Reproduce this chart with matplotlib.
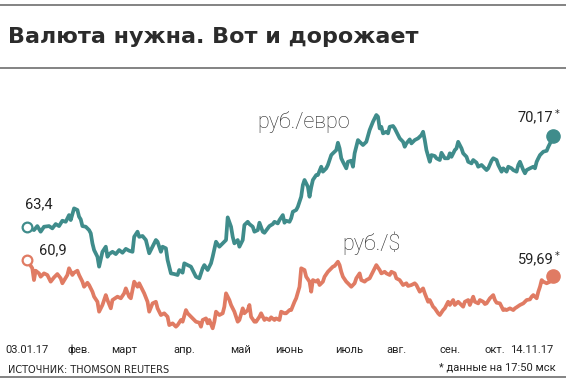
import matplotlib
matplotlib.use("Agg")
import matplotlib.pyplot as plt
from matplotlib.lines import Line2D

# days since 03.01.17 and exchange rates (rub per unit)
eur_days = [0, 4, 6, 8, 10, 13, 15, 17, 19, 21, 23, 25, 26, 28, 30, 31, 32, 33, 35, 37,
            38, 39, 40, 42, 43, 44, 45, 47, 48, 49, 51, 53, 55, 57, 59, 61, 63, 64, 66, 67,
            69, 71, 73, 75, 77, 78, 80, 81, 83, 84, 86, 88, 90, 91, 93, 94, 96, 98, 100, 101,
            103, 105, 106, 108, 110, 111, 113, 115, 117, 119, 120, 122, 123, 124, 126, 127, 129, 130, 132, 133,
            135, 136, 138, 139, 141, 142, 144, 145, 147, 148, 150, 151, 153, 154, 155, 157, 158, 159, 161, 162,
            164, 165, 166, 168, 169, 170, 171, 173, 174, 176, 177, 179, 180, 182, 183, 185, 186, 187, 188, 189,
            191, 192, 194, 195, 196, 198, 199, 201, 203, 205, 207, 209, 210, 211, 212, 213, 215, 216, 217, 219,
            220, 222, 223, 225, 226, 227, 229, 230, 232, 234, 236, 237, 238, 239, 241, 242, 244, 245, 247, 248,
            250, 252, 253, 254, 256, 257, 258, 260, 261, 263, 264, 266, 267, 269, 270, 272, 273, 275, 276, 278,
            279, 281, 282, 284, 285, 287, 288, 290, 291, 293, 294, 295, 297, 298, 299, 301, 303, 304, 305, 306,
            307, 309, 311, 312, 313, 315]
eur_rate = [63.40, 63.15, 63.45, 63.03, 63.40, 63.45, 63.28, 63.60, 63.45, 63.85, 63.77, 64.27, 63.90, 64.77, 64.65, 64.15, 63.95, 63.45, 63.40, 63.15,
            62.91, 62.16, 61.66, 61.16, 60.42, 60.97, 61.53, 61.91, 61.16, 61.36, 61.53, 61.36, 61.66, 61.46, 61.75, 61.61, 61.53, 62.65, 63.03, 62.65,
            62.71, 62.41, 61.42, 61.91, 62.41, 62.28, 61.53, 61.91, 61.79, 60.92, 59.92, 59.87, 59.80, 60.17, 59.97, 60.67, 60.54, 60.42, 59.92, 59.67,
            59.55, 60.30, 60.54, 60.17, 60.67, 61.16, 62.28, 61.91, 62.16, 62.41, 64.10, 63.40, 62.65, 62.16, 62.41, 61.91, 62.41, 63.53, 63.77, 63.60,
            63.40, 63.03, 63.15, 63.70, 63.03, 62.95, 63.28, 63.45, 63.60, 63.77, 63.65, 63.90, 64.27, 63.70, 63.85, 63.77, 64.03, 64.52, 64.65, 64.89,
            65.64, 66.51, 66.89, 66.39, 65.64, 66.34, 66.89, 67.26, 67.26, 67.88, 67.51, 67.76, 68.01, 68.75, 68.88, 69.12, 69.67, 69.25, 68.51, 68.25,
            67.76, 68.25, 68.33, 67.88, 68.88, 69.87, 69.74, 69.50, 69.74, 70.62, 71.24, 71.74, 71.61, 70.74, 70.86, 70.37, 70.49, 70.37, 70.86, 70.92,
            70.74, 70.24, 70.00, 69.74, 69.37, 69.62, 69.92, 69.62, 69.87, 70.00, 70.24, 70.49, 69.87, 69.12, 68.25, 68.75, 68.68, 68.51, 68.38, 68.92,
            68.51, 68.51, 68.88, 68.62, 69.12, 69.25, 69.74, 69.25, 68.88, 68.62, 68.25, 68.13, 68.38, 68.18, 67.88, 68.01, 67.88, 67.63, 67.76, 68.33,
            68.51, 68.38, 68.01, 67.51, 67.76, 67.51, 67.88, 67.76, 67.63, 67.51, 68.01, 68.25, 67.63, 67.39, 67.63, 67.76, 67.88, 67.76, 68.25, 68.51,
            68.75, 69.00, 69.07, 69.37, 69.62, 70.17]

usd_days = [0, 3, 4, 5, 7, 8, 10, 12, 14, 16, 18, 20, 21, 24, 25, 27, 28, 30, 31, 33,
            34, 36, 37, 39, 40, 42, 43, 45, 47, 48, 50, 51, 54, 56, 58, 59, 61, 62, 64, 66,
            67, 69, 70, 72, 73, 75, 77, 78, 80, 82, 84, 85, 87, 89, 90, 92, 93, 95, 96, 98,
            99, 101, 103, 104, 105, 107, 108, 109, 111, 112, 113, 115, 117, 118, 119, 121, 122, 124, 126, 127,
            129, 130, 132, 133, 134, 136, 137, 139, 140, 142, 143, 145, 146, 148, 149, 151, 152, 154, 155, 157,
            158, 160, 161, 163, 164, 166, 167, 169, 170, 171, 173, 174, 175, 177, 178, 180, 181, 183, 184, 186,
            187, 188, 189, 191, 192, 194, 196, 197, 199, 200, 202, 203, 205, 206, 208, 209, 211, 212, 214, 215,
            217, 218, 220, 221, 223, 225, 227, 228, 230, 232, 233, 235, 237, 238, 240, 241, 243, 244, 246, 247,
            249, 250, 252, 253, 255, 256, 258, 259, 261, 262, 264, 265, 267, 268, 270, 271, 273, 274, 275, 277,
            279, 280, 281, 283, 285, 286, 287, 289, 291, 292, 293, 295, 297, 298, 299, 301, 302, 303, 305, 306,
            307, 308, 309, 311, 313, 315]
usd_rate = [60.90, 60.30, 59.42, 60.12, 59.92, 59.67, 59.92, 59.80, 59.30, 59.62, 59.87, 59.55, 59.18, 59.80, 60.30, 59.80, 59.97, 60.12, 59.80, 59.30,
            58.92, 59.22, 59.05, 58.55, 58.18, 57.80, 57.06, 57.56, 58.30, 57.93, 57.31, 57.93, 58.18, 58.06, 58.43, 58.80, 58.18, 58.06, 59.30, 58.92,
            59.18, 58.68, 58.43, 57.80, 57.06, 57.68, 57.80, 57.31, 56.81, 56.94, 56.68, 56.06, 56.19, 55.94, 56.06, 56.44, 56.31, 57.18, 56.94, 56.68,
            56.56, 56.31, 56.24, 55.94, 56.44, 56.56, 56.19, 56.44, 55.82, 56.31, 57.06, 56.81, 56.94, 57.43, 58.43, 57.93, 57.56, 57.06, 56.31, 56.44,
            57.31, 56.94, 57.18, 57.56, 56.68, 56.31, 56.31, 56.68, 56.94, 56.44, 56.56, 56.44, 56.64, 56.44, 56.56, 56.44, 57.06, 56.94, 56.94, 57.18,
            57.18, 57.80, 58.06, 58.92, 60.30, 60.17, 59.67, 59.30, 58.55, 59.42, 59.30, 59.42, 59.05, 59.30, 59.67, 60.04, 60.17, 60.42, 60.47, 60.79,
            60.54, 60.04, 59.67, 59.30, 59.18, 58.92, 59.18, 59.55, 59.92, 59.42, 59.30, 59.42, 59.55, 59.80, 60.30, 60.54, 60.17, 59.92, 60.04, 59.92,
            59.80, 60.04, 59.92, 59.55, 59.42, 59.05, 59.18, 58.98, 59.05, 59.18, 59.05, 58.55, 58.80, 58.43, 57.80, 57.93, 57.43, 57.31, 56.94, 56.81,
            57.18, 57.31, 57.80, 57.56, 57.93, 57.56, 57.80, 57.68, 57.43, 57.80, 57.93, 57.56, 58.18, 57.80, 57.68, 57.93, 57.80, 57.63, 57.68, 58.06,
            58.30, 57.93, 57.73, 57.68, 57.18, 57.24, 57.18, 57.31, 57.18, 57.31, 57.39, 57.56, 57.68, 57.80, 57.93, 57.98, 58.18, 58.30, 58.06, 58.55,
            58.92, 59.42, 59.30, 59.18, 59.30, 59.69]

month_days = [0, 31, 58, 94, 128, 157, 193, 221, 253, 280, 315]
month_labels = ["03.01.17", "фев.", "март", "апр.", "май", "июнь", "июль", "авг.",
                "сен.", "окт.", "14.11.17"]

EUR_COLOR = "#3f8c8b"
USD_COLOR = "#e07b63"
TEXT = "#222222"
RULE = "#7a7a7a"

fig = plt.figure(figsize=(5.66, 3.8), dpi=100)
fig.patch.set_facecolor("white")

# rules
for y in (375 / 380, 312 / 380, 3 / 380):
    fig.add_artist(Line2D([0, 1], [y, y], color=RULE, lw=1.3))

fig.text(8 / 566, 1 - 37 / 380, "Валюта нужна. Вот и дорожает", fontsize=16,
         fontweight="bold", color="#2b2b2b", va="center", ha="left",
         family="DejaVu Sans")

ax = fig.add_axes([20 / 566, 45 / 380, 540 / 566, 235 / 380])
ax.set_xlim(-4.37, 318.98)
ax.set_ylim(55.32, 72.86)
for s in ax.spines.values():
    s.set_visible(False)
ax.set_yticks([])

ax.plot(eur_days, eur_rate, color=EUR_COLOR, lw=2.7, solid_joinstyle="round",
        solid_capstyle="round")
ax.plot(usd_days, usd_rate, color=USD_COLOR, lw=2.7, solid_joinstyle="round",
        solid_capstyle="round")

# start / end markers
for d, r, c in [(eur_days, eur_rate, EUR_COLOR), (usd_days, usd_rate, USD_COLOR)]:
    ax.plot(d[0], r[0], "o", ms=7, mfc="white", mec=c, mew=1.6, clip_on=False, zorder=5)
    ax.plot(d[-1], r[-1], "o", ms=9.5, color=c, clip_on=False, zorder=5)

num_font = dict(fontsize=10.5, color=TEXT, family=["Roboto", "DejaVu Sans"])
ax.annotate("63,4", (eur_days[0], eur_rate[0]), xytext=(12, 22),
            textcoords="offset pixels", ha="center", va="center", **num_font)
ax.annotate("60,9", (usd_days[0], usd_rate[0]), xytext=(26, 10),
            textcoords="offset pixels", ha="center", va="center", **num_font)
ax.annotate("70,17", (eur_days[-1], eur_rate[-1]), xytext=(0, 19),
            textcoords="offset pixels", ha="right", va="center", **num_font)
ax.annotate("59,69", (usd_days[-1], usd_rate[-1]), xytext=(0, 17),
            textcoords="offset pixels", ha="right", va="center", **num_font)
for d, r, dy in [(eur_days[-1], eur_rate[-1], 22), (usd_days[-1], usd_rate[-1], 20)]:
    ax.annotate("*", (d, r), xytext=(1, dy), textcoords="offset pixels",
                ha="left", va="center", fontsize=7, color=TEXT)

lbl_font = dict(fontsize=15.5, color="#2a2a2a", fontweight="light",
                family=["Roboto", "DejaVu Sans"])
ax.text(137.5, 70.8, "руб./евро", ha="left", va="baseline", **lbl_font)
ax.text(188.4, 61.66, "руб./$", ha="left", va="baseline", **lbl_font)

ax.set_xticks(month_days)
ax.set_xticklabels(month_labels, fontsize=8, color=TEXT, family=["Roboto", "DejaVu Sans"])
ax.tick_params(axis="x", length=0, pad=7)
ax.get_xticklabels()[-1].set_ha("right")

fig.text(8 / 566, 1 - 370 / 380, "ИСТОЧНИК: THOMSON REUTERS", fontsize=7,
         color=TEXT, va="center", ha="left",
         family=["Liberation Sans Narrow", "DejaVu Sans"])
fig.text(556 / 566, 1 - 368 / 380, "* данные на 17:50 мск", fontsize=8,
         color=TEXT, va="center", ha="right", family=["Roboto", "DejaVu Sans"])

fig.savefig("out.png", dpi=100, facecolor="white")
